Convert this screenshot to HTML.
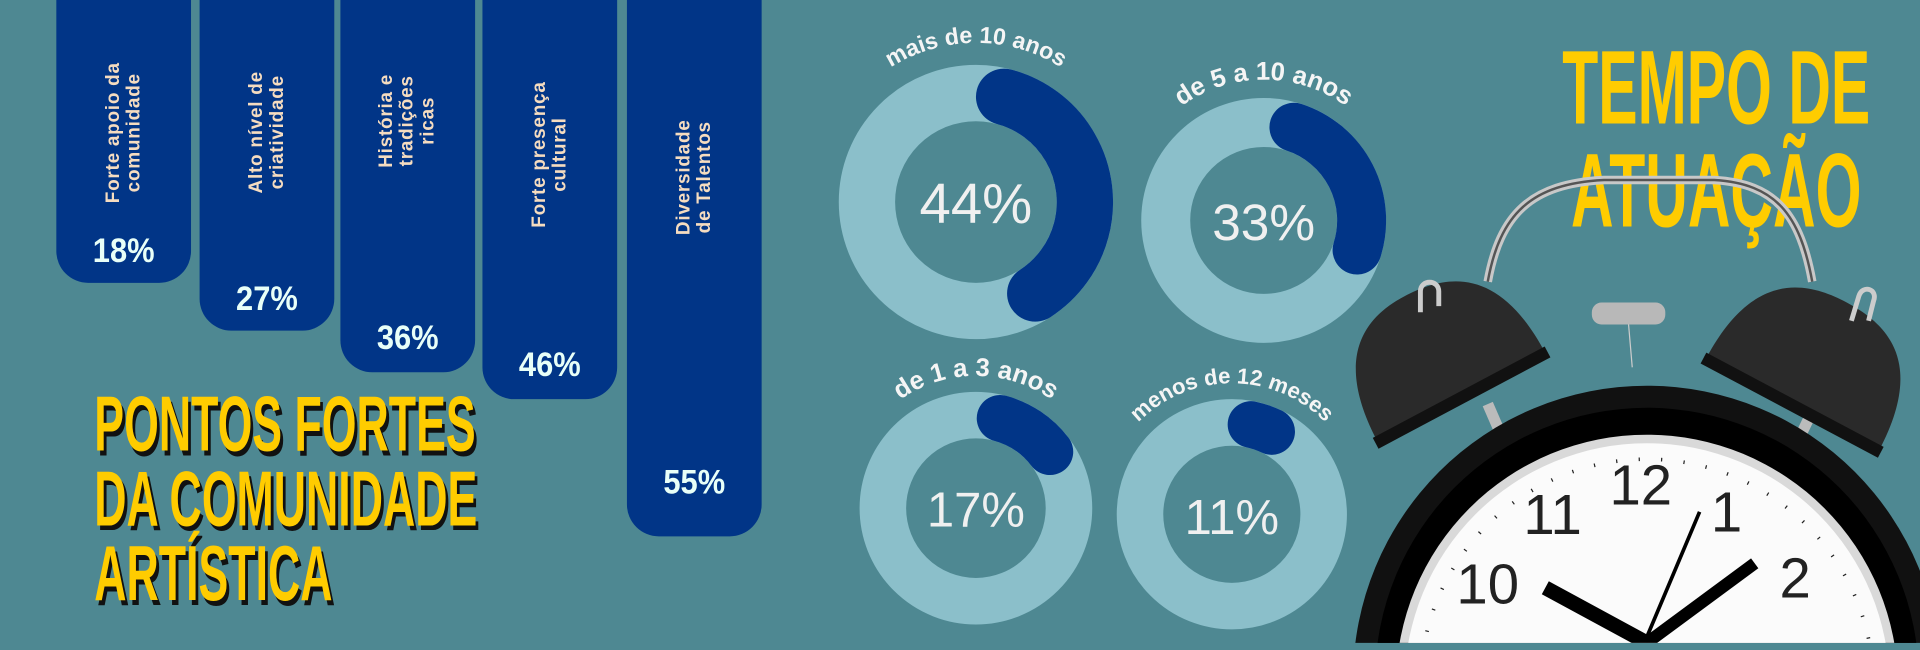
<!DOCTYPE html>
<html><head><meta charset="utf-8"><style>
html,body{margin:0;padding:0;width:1920px;height:650px;overflow:hidden;background:#4e8892}
#s{position:absolute;left:0;top:0;width:1568px;height:531px;overflow:hidden;transform:scale(1.22449);transform-origin:0 0;font-family:"Liberation Sans","DejaVu Sans",sans-serif}
.bar{position:absolute;top:-30px;background:#013587;border-radius:0 0 26px 26px;width:110px}
.lab{position:absolute;left:50%;color:#f5dcc0;font-weight:bold;font-size:15.5px;letter-spacing:0.6px;line-height:17px;white-space:nowrap;text-align:center;transform-origin:0 0}
.pct{position:absolute;left:0;right:0;bottom:10px;text-align:center;color:#e8fff8;font-weight:bold;font-size:28px;transform:scaleX(0.9)}
.tt{position:absolute;color:#ffcc00;font-weight:bold;white-space:nowrap;transform-origin:0 0}
</style></head><body><div id="s">
<div class="bar" style="left:46px;height:261px"><div class="lab" style="top:196px;transform:rotate(-90deg) translate(0,-17px)">Forte apoio da<br>comunidade</div><div class="pct">18%</div></div>
<div class="bar" style="left:163px;height:300px"><div class="lab" style="top:188px;transform:rotate(-90deg) translate(0,-17px)">Alto nível de<br>criatividade</div><div class="pct">27%</div></div>
<div class="bar" style="left:278px;height:334px"><div class="lab" style="top:167px;transform:rotate(-90deg) translate(0,-26px)">História e<br>tradições<br>ricas</div><div class="pct" style="bottom:12px">36%</div></div>
<div class="bar" style="left:394px;height:356px"><div class="lab" style="top:216px;transform:rotate(-90deg) translate(0,-17px)">Forte presença<br>cultural</div><div class="pct" style="bottom:12px">46%</div></div>
<div class="bar" style="left:512px;height:468px"><div class="lab" style="top:222px;transform:rotate(-90deg) translate(0,-17px)">Diversidade<br>de Talentos</div><div class="pct" style="bottom:28px">55%</div></div>

<div class="tt" style="left:77px;top:316px;font-size:64px;line-height:61px;transform:scaleX(0.57);text-shadow:4px 4px 0 #111">PONTOS FORTES<br>DA COMUNIDADE<br>ARTÍSTICA</div>
<div class="tt" style="left:1270px;top:30px;font-size:86px;line-height:84px;transform:scaleX(0.56);text-align:center;width:470px">TEMPO DE<br>ATUAÇÃO</div>

<svg width="1568" height="531" style="position:absolute;left:0;top:0" font-family="Liberation Sans, DejaVu Sans, sans-serif">
<defs>
<path id="p1" d="M667,165 A130,130 0 0 1 927,165"/>
<path id="p2" d="M917,180 A115,115 0 0 1 1147,180"/>
<path id="p3" d="M689,415 A108,108 0 0 1 905,415"/>
<path id="p4" d="M899,420 A107,107 0 0 1 1113,420"/>
<clipPath id="cl"><rect x="0" y="0" width="1568" height="525"/></clipPath>
</defs>
<g fill="none">
<circle cx="797" cy="165" r="89" stroke="#8bbfca" stroke-width="46"/>
<circle cx="797" cy="165" r="89" stroke="#013587" stroke-width="46" stroke-linecap="round" stroke-dasharray="205 1000" transform="rotate(-75 797 165)"/>
<circle cx="1032" cy="180" r="80" stroke="#8bbfca" stroke-width="40"/>
<circle cx="1032" cy="180" r="80" stroke="#013587" stroke-width="40" stroke-linecap="round" stroke-dasharray="125 1000" transform="rotate(-72 1032 180)"/>
<circle cx="797" cy="415" r="76" stroke="#8bbfca" stroke-width="38"/>
<circle cx="797" cy="415" r="76" stroke="#013587" stroke-width="38" stroke-linecap="round" stroke-dasharray="50 1000" transform="rotate(-75 797 415)"/>
<circle cx="1006" cy="420" r="75" stroke="#8bbfca" stroke-width="38"/>
<circle cx="1006" cy="420" r="75" stroke="#013587" stroke-width="38" stroke-linecap="round" stroke-dasharray="18 1000" transform="rotate(-78 1006 420)"/>
</g>
<g fill="#f0f0f0" text-anchor="middle" font-size="46">
<text x="797" y="182">44%</text>
<text x="1032" y="196" font-size="42">33%</text>
<text x="797" y="430" font-size="40">17%</text>
<text x="1006" y="436" font-size="40">11%</text>
</g>
<g fill="#f5f5f5" font-weight="bold" text-anchor="middle">
<text font-size="19"><textPath href="#p1" startOffset="50%">mais de 10 anos</textPath></text>
<text font-size="21"><textPath href="#p2" startOffset="50%">de 5 a 10 anos</textPath></text>
<text font-size="21"><textPath href="#p3" startOffset="50%">de 1 a 3 anos</textPath></text>
<text font-size="18"><textPath href="#p4" startOffset="50%">menos de 12 meses</textPath></text>
</g>
<g clip-path="url(#cl)">
<path d="M1215,230 C1225,175 1250,150 1310,147 L1400,147 C1450,150 1470,175 1480,230" fill="none" stroke="#c8c8c8" stroke-width="7"/>
<path d="M1215,230 C1225,175 1250,150 1310,147 L1400,147 C1450,150 1470,175 1480,230" fill="none" stroke="#555" stroke-width="2"/>
<rect x="1300" y="247" width="60" height="18" rx="8" fill="#b8b8b8"/>
<line x1="1330" y1="265" x2="1333" y2="300" stroke="#ccc" stroke-width="1"/>
<line x1="1215" y1="330" x2="1228" y2="360" stroke="#bbb" stroke-width="9"/>
<line x1="1478" y1="340" x2="1466" y2="365" stroke="#bbb" stroke-width="9"/>
<circle cx="1345" cy="555" r="240" fill="#111"/>
<circle cx="1345" cy="555" r="222" fill="#000"/>
<circle cx="1345" cy="560" r="205" fill="#d9d9d9"/>
<circle cx="1345" cy="560" r="198" fill="#fbfbfb"/>
<circle cx="1345" cy="560" r="185" fill="none" stroke="#222" stroke-width="3" stroke-dasharray="1 17.4"/>
<g fill="#222" font-size="46" text-anchor="middle">
<text x="1340" y="412">12</text><text x="1268" y="436">11</text><text x="1410" y="434">1</text><text x="1215" y="493">10</text><text x="1466" y="488">2</text>
</g>
<line x1="1345" y1="520" x2="1388" y2="418" stroke="#000" stroke-width="3"/>
<line x1="1345" y1="525" x2="1433" y2="460" stroke="#000" stroke-width="10"/>
<line x1="1345" y1="525" x2="1262" y2="480" stroke="#000" stroke-width="12"/>
<g transform="rotate(-28 1175 295)"><path d="M1100,330 C1100,250 1140,235 1175,235 C1215,235 1255,250 1255,330 Z" fill="#2a2a2a"/><rect x="1098" y="325" width="159" height="10" fill="#111"/></g>
<g transform="rotate(28 1480 300)"><path d="M1400,335 C1400,255 1440,240 1480,240 C1520,240 1560,255 1560,335 Z" fill="#2a2a2a"/><rect x="1398" y="330" width="164" height="10" fill="#111"/></g>
<path d="M1160,255 L1160,238 C1160,228 1175,228 1175,238 L1175,250" fill="none" stroke="#ccc" stroke-width="4"/>
<path d="M1512,262 L1518,242 C1521,232 1534,236 1530,246 L1526,262" fill="none" stroke="#ccc" stroke-width="4"/>
</g>
</svg>
</div></body></html>
